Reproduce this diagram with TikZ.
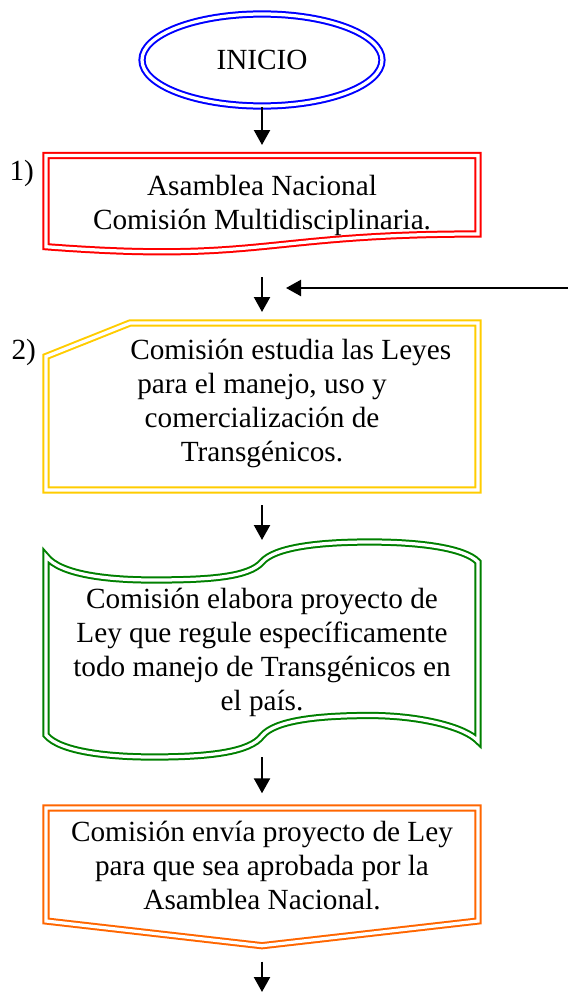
\documentclass[tikz,border=0pt]{standalone}
\usepackage{fontspec}
\setmainfont{Liberation Serif}
\usetikzlibrary{arrows.meta,shapes.geometric}
\definecolor{azul}{RGB}{0,0,255}
\definecolor{rojo}{RGB}{255,0,0}
\definecolor{amarillo}{RGB}{255,204,0}
\definecolor{verde}{RGB}{0,128,0}
\definecolor{naranja}{RGB}{255,102,0}
\tikzset{
	borde/.style={line width=0.8pt, double=white, double distance=1.3pt},
	flecha/.style={line width=0.9pt, -{Triangle[length=6pt,width=6.4pt]}},
	texto/.style={align=center, inner sep=0pt, font=\fontsize{11.7}{13.6}\selectfont}
}
\begin{document}
\begin{tikzpicture}[x=0.4pt,y=-0.4pt]
		\useasboundingbox (0,0) rectangle (568,993);
		% Inicio
		\node[ellipse, draw=azul, borde, minimum width=96pt, minimum height=36.8pt, texto] (inicio) at (262,60) {INICIO};
		% Paso 1
		\draw[rojo, borde] (46,155.5) -- (478,155.5) -- (478,234) .. controls (262,234) and (262,263.3) .. (46,246.7) -- cycle;
		\node[texto] (asamblea) at (262,205.2) {Asamblea Nacional\\Comisión Multidisciplinaria.};
		\node[texto, anchor=base west] (num1) at (9,180) {1)};
		% Paso 2
		\draw[amarillo, borde] (130,323) -- (478,323) -- (478,490) -- (46,490) -- (46,356.5) -- cycle;
		\node[texto] (estudia) at (262,403.7) {\hspace*{23pt}Comisión estudia las Leyes\\para el manejo, uso y\\comercialización de\\Transgénicos.};
		\node[texto, anchor=base west] (num2) at (11,359) {2)};
		% Proyecto de Ley
		\draw[verde, borde] (46,556) .. controls (60,575) and (110,580) .. (153,580) .. controls (210,580) and (249,577) .. (262,562) .. controls (275,547) and (320,542) .. (370,542) .. controls (420,542) and (465,548) .. (478,562) -- (478,741) .. controls (465,727) and (420,715.5) .. (370,715.5) .. controls (320,715.5) and (275,720) .. (262,736) .. controls (250,752) and (210,757) .. (153,757) .. controls (110,757) and (60,752) .. (46,735) -- cycle;
		\node[texto] (elabora) at (262,652.9) {Comisión elabora proyecto de\\Ley que regule específicamente\\todo manejo de Transgénicos en\\el país.};
		% Envio
		\draw[naranja, borde] (46,808) -- (478,808) -- (478,921) -- (262,945.7) -- (46,921) -- cycle;
		\node[texto] (envia) at (262,866) {Comisión envía proyecto de Ley\\para que sea aprobada por la\\Asamblea Nacional.};
		% Flechas
		\coordinate (f1) at (262,145);
		\coordinate (f2a) at (262,277);
		\coordinate (f2b) at (262,312);
		\coordinate (ret) at (568,288);
		\coordinate (retb) at (286,288);
		\coordinate (f3a) at (262,505);
		\coordinate (f3b) at (262,540);
		\coordinate (f4a) at (262,757.3);
		\coordinate (f4b) at (262,793.3);
		\coordinate (f5a) at (262,961.7);
		\coordinate (f5b) at (262,992);
		\draw[flecha] (inicio.south) -- (f1);
		\draw[flecha] (f2a) -- (f2b);
		\draw[flecha] (ret) -- (retb);
		\draw[flecha] (f3a) -- (f3b);
		\draw[flecha] (f4a) -- (f4b);
		\draw[flecha] (f5a) -- (f5b);
\end{tikzpicture}
\end{document}
